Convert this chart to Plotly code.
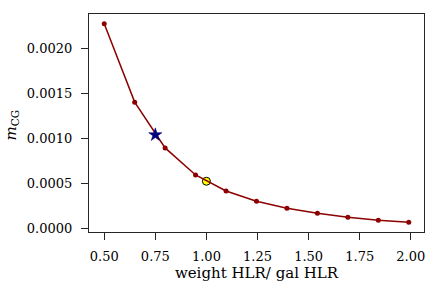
import plotly.graph_objects as go

# data
x_vals = [0.5, 0.649, 0.798, 0.947, 1.096, 1.245, 1.394, 1.543, 1.692, 1.841, 1.99]
m_cg = [0.002270, 0.001400, 0.000892, 0.000592, 0.000414, 0.000300, 0.000222,
        0.000167, 0.000122, 0.000089, 0.000067]
star_x = [0.75]
star_y = [0.001037]
circle_x = [1.0]
circle_y = [0.000522]

x_ticks = [0.5, 0.75, 1.0, 1.25, 1.5, 1.75, 2.0]
y_ticks = [0.0, 0.0005, 0.0010, 0.0015, 0.0020]

FONT = "DejaVu Serif"
AX = "#262626"

fig = go.Figure()
fig.add_trace(go.Scatter(x=circle_x, y=circle_y, mode="markers",
                         marker=dict(symbol="circle", size=8, color="#FFFF00",
                                     line=dict(color="black", width=1)),
                         showlegend=False))
fig.add_trace(go.Scatter(x=x_vals, y=m_cg, mode="lines+markers",
                         line=dict(color="#8B0000", width=1.5),
                         marker=dict(symbol="circle", size=5, color="#8B0000"),
                         showlegend=False))
fig.add_trace(go.Scatter(x=star_x, y=star_y, mode="markers",
                         marker=dict(symbol="star", size=10, color="#000080",
                                     line=dict(color="#000060", width=0.5)),
                         showlegend=False))

fig.update_layout(
    template="none",
    width=439, height=286,
    margin=dict(l=89, r=15, t=14, b=54, autoexpand=False),
    paper_bgcolor="white", plot_bgcolor="white",
    font=dict(family=FONT, size=13, color="black"),
    xaxis=dict(range=[0.4255, 2.0645], tickvals=x_ticks, tickformat=".2f",
               ticks="outside", ticklen=7, tickwidth=1, tickcolor=AX,
               ticklabelstandoff=5,
               showline=True, linecolor=AX, linewidth=1.2, mirror=True,
               showgrid=False, zeroline=False, automargin=False,
               title=dict(text="weight HLR/ gal HLR", standoff=3,
                          font=dict(family=FONT, size=15))),
    yaxis=dict(range=[-0.000041, 0.002378], tickvals=y_ticks, tickformat=".4f",
               ticks="outside", ticklen=7, tickwidth=1, tickcolor=AX,
               ticklabelstandoff=6,
               showline=True, linecolor=AX, linewidth=1.2, mirror=True,
               showgrid=False, zeroline=False, automargin=False),
    annotations=[dict(text="<i>m</i><sub>CG</sub>", textangle=-90,
                      xref="paper", yref="paper", x=-0.232, y=0.49,
                      xanchor="center", yanchor="middle", showarrow=False,
                      font=dict(family=FONT, size=15))],
)

fig.write_html("out.html", config={"displayModeBar": False},
               post_script="document.body.style.margin='0';document.body.style.overflow='hidden';")
